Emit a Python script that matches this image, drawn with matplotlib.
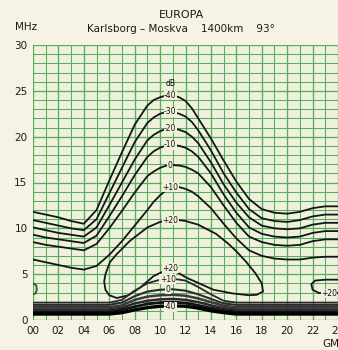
import matplotlib
matplotlib.use("Agg")
import matplotlib.pyplot as plt

# ---------------- data ----------------
hour_ticks = ["00", "02", "04", "06", "08", "10", "12", "14", "16", "18", "20", "22", "24"]
mhz_ticks = [0, 5, 10, 15, 20, 25, 30]

# upper (MUF side) family, dB labels
upper_h = [0, 1, 2, 3, 4, 5, 6, 7, 8, 9, 9.5, 10, 10.5, 11, 11.5, 12, 12.5, 13,
           14, 15, 16, 17, 18, 19, 20, 21, 22, 23, 24]
upper_labels = ["-40", "-30", "-20", "-10", "0", "+10"]
upper_m40 = [11.8, 11.5, 11.2, 10.8, 10.5, 12.0, 15.2, 18.3, 21.3, 23.4, 24.0, 24.3, 24.5, 24.5,
             24.3, 23.9, 23.1, 22.0, 19.8, 17.4, 15.1, 13.2, 12.1, 11.7, 11.6, 11.8, 12.2, 12.4, 12.4]
upper_m30 = [10.9, 10.6, 10.3, 10.0, 9.8, 11.0, 13.8, 16.6, 19.4, 21.5, 22.1, 22.5, 22.7, 22.7,
             22.5, 22.2, 21.6, 20.7, 18.5, 16.0, 13.9, 12.1, 11.1, 10.8, 10.7, 10.9, 11.3, 11.5, 11.5]
upper_m20 = [10.1, 9.8, 9.5, 9.3, 9.1, 10.1, 12.5, 15.0, 17.5, 19.6, 20.2, 20.6, 20.85, 20.9,
             20.75, 20.5, 20.0, 19.3, 17.2, 14.8, 12.8, 11.2, 10.3, 10.0, 9.9, 10.0, 10.4, 10.6, 10.6]
upper_m10 = [9.3, 9.0, 8.8, 8.6, 8.4, 9.2, 11.3, 13.5, 15.8, 17.8, 18.4, 18.8, 19.05, 19.1,
             19.0, 18.8, 18.4, 17.8, 16.0, 13.7, 11.7, 10.1, 9.4, 9.1, 9.0, 9.1, 9.5, 9.7, 9.7]
upper_0 = [8.5, 8.2, 8.0, 7.8, 7.6, 8.3, 10.0, 11.9, 13.9, 15.7, 16.2, 16.6, 16.85, 16.9,
           16.85, 16.7, 16.4, 16.0, 14.5, 12.5, 10.6, 9.1, 8.5, 8.2, 8.1, 8.2, 8.6, 8.8, 8.8]
upper_p10 = [6.6, 6.3, 6.0, 5.7, 5.5, 5.9, 7.1, 8.6, 10.3, 12.0, 12.9, 13.6, 14.2, 14.5,
             14.5, 14.3, 14.0, 13.5, 12.2, 10.5, 8.9, 7.6, 7.0, 6.7, 6.6, 6.6, 6.8, 6.9, 6.9]
upper_curves = [upper_m40, upper_m30, upper_m20, upper_m10, upper_0, upper_p10]
upper_label_y = [24.5, 22.7, 20.9, 19.1, 16.9, 14.5]

# +20 dB closed region (daytime)
loop20_h = [10.8, 11.5, 12.0, 13.0, 14.4, 15.3, 16.0, 16.8, 17.5, 18.0, 18.1, 17.6, 17.0, 15.7,
            14.2, 12.1, 10.8, 9.5, 8.4, 7.5, 6.6, 6.0, 5.7, 5.6, 5.7, 6.05, 6.6, 7.6, 9.0,
            10.0, 10.8]
loop20_f = [10.9, 10.9, 10.8, 10.4, 9.4, 8.4, 7.5, 6.3, 5.1, 4.0, 3.1, 2.75, 2.7, 2.9,
            3.3, 4.6, 5.65, 4.8, 3.5, 2.7, 2.4, 2.7, 3.3, 4.2, 5.0, 6.3, 7.2, 8.6, 10.1,
            10.7, 10.9]

# small +20 dB regions at night
right20_h = [24.0, 23.0, 22.2, 21.9, 22.0, 22.5, 23.1, 24.0]
right20_f = [4.4, 4.4, 4.3, 3.9, 3.3, 2.95, 2.9, 2.95]
left20_h = [0.0, 0.25, 0.3, 0.2, 0.0]
left20_f = [4.0, 3.8, 3.3, 2.9, 2.8]

# lower (LUF side) family
lower_h = [0, 6, 7, 8, 9, 10, 11, 12, 13, 14, 15, 16, 24]
lower_p10 = [1.9, 1.9, 2.2, 3.2, 4.0, 4.4, 4.5, 4.3, 3.6, 2.8, 2.1, 1.9, 1.9]
lower_0 = [1.65, 1.65, 1.9, 2.6, 3.1, 3.3, 3.35, 3.2, 2.8, 2.3, 1.8, 1.65, 1.65]
lower_m10 = [1.4, 1.4, 1.6, 2.2, 2.55, 2.7, 2.75, 2.65, 2.35, 1.95, 1.55, 1.4, 1.4]
lower_m20 = [1.15, 1.15, 1.35, 1.8, 2.1, 2.25, 2.3, 2.2, 1.95, 1.6, 1.3, 1.15, 1.15]
lower_m30 = [0.9, 0.9, 1.1, 1.45, 1.75, 1.9, 1.95, 1.85, 1.6, 1.3, 1.05, 0.9, 0.9]
lower_m40 = [0.65, 0.65, 0.8, 1.1, 1.35, 1.5, 1.55, 1.5, 1.3, 1.0, 0.8, 0.65, 0.65]
lower_curves = [lower_p10, lower_0, lower_m10, lower_m20, lower_m30, lower_m40]

# ---------------- figure ----------------
W, H = 338, 350
fig = plt.figure(figsize=(W / 100, H / 100), dpi=100)
fig.patch.set_facecolor("#f6f3e4")
ax = fig.add_axes([33 / W, 30 / H, (338 - 33) / W, (320 - 45) / H])
bg = "#eff1dc"
ax.set_facecolor(bg)
ax.set_xlim(0, 24)
ax.set_ylim(0, 30)

green = "#57ad5f"
for h in range(0, 25):
    ax.axvline(h, color=green, lw=0.95 if h % 2 == 0 else 0.75, zorder=1)
for f in range(0, 31):
    ax.axhline(f, color=green, lw=0.95 if f % 5 == 0 else 0.75, zorder=1)
for s in ax.spines.values():
    s.set_visible(False)

ax.set_xticks(range(0, 25, 2))
ax.set_xticklabels(hour_ticks)
ax.set_yticks(mhz_ticks)
ax.set_yticklabels([str(v) for v in mhz_ticks])
ax.tick_params(length=0, labelsize=7.5, colors="#1a1a1a", pad=4)

ink = "#151515"
for c in upper_curves:
    ax.plot(upper_h, c, color=ink, lw=1.3, zorder=3, solid_joinstyle="round")
ax.plot(loop20_h, loop20_f, color=ink, lw=1.3, zorder=3, solid_joinstyle="round")
ax.plot(right20_h, right20_f, color=ink, lw=1.3, zorder=3)
ax.plot(left20_h, left20_f, color="#2d5a2d", lw=1.3, zorder=3)
lower_colors = ["#2a2a2a", "#2a2a2a", "#3a3a3a", "#2a2a2a", "#111111", "#000000"]
lower_widths = [1.3, 1.5, 1.8, 1.8, 2.0, 2.4]
for c, col, lw in zip(lower_curves, lower_colors, lower_widths):
    ax.plot(lower_h, c, color=col, lw=lw, zorder=3, solid_joinstyle="round")

lab_kw = dict(fontsize=5.5, ha="center", va="center", color=ink, zorder=5,
              bbox=dict(boxstyle="square,pad=0.05", fc=bg, ec="none"))
for lab, yv in zip(upper_labels, upper_label_y):
    ax.text(10.8, yv, lab, **lab_kw)
ax.text(10.8, 10.9, "+20", **lab_kw)
ax.text(10.8, 5.65, "+20", **lab_kw)
ax.text(10.8, 25.8, "dB", fontsize=5.5, ha="center", va="center", color=ink, zorder=5)
ax.text(10.6, 4.45, "+10", **lab_kw)
ax.text(10.6, 3.35, "0", **lab_kw)
ax.text(10.8, 1.45, "-40", **lab_kw)
ax.text(23.3, 2.9, "+20", **lab_kw)

fig.text(181 / W, 1 - 15 / H, "EUROPA", fontsize=8, ha="center", va="center", color="#1a1a1a")
fig.text(181 / W, 1 - 29 / H, "Karlsborg \u2013 Moskva    1400km    93\u00b0", fontsize=7.5,
         ha="center", va="center", color="#1a1a1a")
fig.text(15 / W, 1 - 27 / H, "MHz", fontsize=7.5, ha="left", va="center", color="#1a1a1a")
fig.text(322 / W, 1 - 344 / H, "GMT", fontsize=7.5, ha="left", va="center", color="#1a1a1a")

fig.savefig("out.png", dpi=100, facecolor=fig.get_facecolor())
